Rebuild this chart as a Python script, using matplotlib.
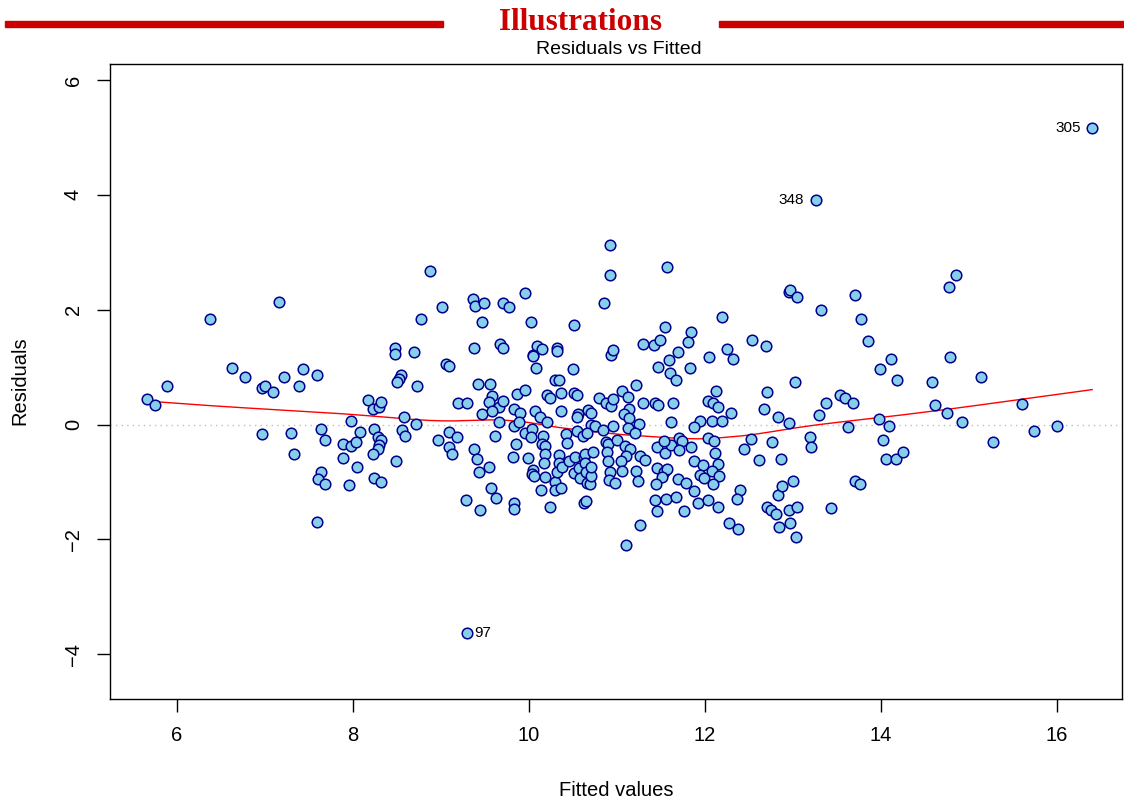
import matplotlib
matplotlib.use('Agg')
import matplotlib.pyplot as plt
import matplotlib.patches as mpatches
import numpy as np

# Valores (ajustados vs resíduos)
fitted = [
    5.66, 5.75, 5.89, 6.38, 6.63, 6.77, 6.97, 7.00, 7.09, 7.16, 7.22, 7.39, 7.43, 7.59,
    7.98, 8.17, 8.23, 8.29, 8.32, 6.97, 7.30, 7.64, 7.68, 7.33, 7.64, 7.60, 7.68, 7.59,
    7.89, 7.98, 8.03, 8.08, 7.89, 8.05, 7.96, 8.24, 8.28, 8.32, 8.30, 8.28, 8.23, 8.24,
    8.32, 8.87, 8.77, 9.01, 8.48, 8.48, 8.69, 9.06, 9.09, 8.55, 8.52, 8.50, 8.73, 9.36,
    9.39, 9.49, 9.70, 9.77, 9.96, 9.47, 10.02, 9.37, 9.67, 9.71, 10.09, 10.15, 10.04, 10.05,
    10.32, 10.32, 10.08, 10.51, 10.50, 10.85, 10.92, 10.92, 10.93, 9.19, 9.29, 9.42, 9.56, 9.58,
    9.55, 9.66, 9.70, 9.47, 9.58, 8.58, 8.72, 9.86, 9.96, 9.83, 9.90, 10.07, 10.13, 10.21,
    10.24, 10.21, 10.36, 10.36, 10.29, 10.34, 10.51, 10.55, 10.56, 10.55, 10.67, 10.71, 10.79, 10.88,
    10.93, 9.66, 9.83, 9.89, 10.71, 8.56, 8.59, 8.49, 8.97, 9.09, 9.18, 9.09, 9.13, 9.38,
    9.41, 9.43, 9.55, 9.57, 9.63, 9.28, 9.44, 9.61, 9.85, 9.82, 9.83, 9.83, 9.95, 10.03,
    10.02, 9.99, 10.05, 10.03, 10.06, 10.16, 10.15, 10.18, 10.18, 10.17, 10.18, 10.14, 10.24, 10.30,
    10.30, 10.36, 10.34, 10.34, 10.32, 10.37, 10.42, 10.43, 10.46, 10.52, 10.51, 10.57, 10.58, 10.62,
    10.64, 10.64, 10.65, 10.66, 10.69, 10.71, 10.71, 10.73, 10.63, 10.65, 10.55, 10.61, 10.66, 10.75,
    10.84, 10.87, 10.90, 10.89, 10.90, 10.92, 10.91, 11.57, 11.55, 11.30, 11.42, 11.49, 11.84, 11.81,
    11.69, 11.59, 11.47, 11.60, 11.67, 11.83, 10.96, 12.19, 12.05, 12.25, 12.32, 12.53, 12.69, 12.95,
    12.97, 13.05, 13.32, 13.02, 12.70, 13.38, 11.22, 11.06, 11.13, 10.96, 11.30, 11.43, 11.47, 11.64,
    11.14, 11.08, 11.14, 11.25, 11.61, 12.13, 12.04, 12.09, 12.15, 12.30, 12.67, 12.83, 12.95, 13.30,
    11.94, 12.08, 12.19, 11.87, 10.96, 11.13, 11.21, 11.00, 11.09, 11.15, 11.10, 11.05, 10.98, 11.06,
    11.22, 11.24, 11.26, 11.32, 11.26, 11.10, 11.46, 11.55, 11.61, 11.54, 11.71, 11.74, 11.71, 11.84,
    11.46, 11.53, 11.57, 11.51, 11.44, 11.69, 11.78, 11.43, 11.56, 11.67, 11.46, 11.76, 11.88, 11.92,
    11.88, 11.98, 11.94, 11.99, 12.04, 12.10, 12.11, 12.15, 12.08, 12.16, 12.09, 12.03, 12.15, 12.44,
    12.52, 12.61, 12.76, 12.86, 12.40, 12.36, 12.27, 12.37, 12.70, 12.75, 12.81, 12.83, 12.88, 13.00,
    12.95, 13.05, 12.84, 12.97, 13.03, 13.19, 13.20, 13.43, 13.71, 13.77, 13.85, 14.11, 13.99, 14.18,
    13.54, 13.59, 13.68, 14.85, 14.77, 14.79, 15.14, 14.58, 14.61, 14.75, 14.92, 15.60, 13.98, 14.09,
    13.63, 16.00, 15.74, 14.02, 14.06, 14.17, 14.25, 13.71, 13.76, 15.27,
    16.40, 13.26, 9.30,
]
residuals = [
    0.44, 0.35, 0.67, 1.83, 0.98, 0.83, 0.64, 0.67, 0.57, 2.14, 0.83, 0.67, 0.97, 0.86,
    0.07, 0.43, 0.28, 0.31, 0.39, -0.16, -0.15, -0.08, -0.27, -0.52, -0.83, -0.94, -1.03, -1.69,
    -0.34, -0.38, -0.31, -0.13, -0.59, -0.74, -1.06, -0.07, -0.22, -0.26, -0.35, -0.42, -0.52, -0.93,
    -1.00, 2.68, 1.84, 2.04, 1.33, 1.23, 1.26, 1.06, 1.02, 0.86, 0.79, 0.75, 0.68, 2.19,
    2.07, 2.12, 2.11, 2.04, 2.30, 1.79, 1.79, 1.34, 1.40, 1.34, 1.37, 1.31, 1.22, 1.20,
    1.34, 1.29, 0.98, 1.74, 0.96, 2.11, 3.13, 2.61, 1.21, 0.37, 0.37, 0.70, 0.70, 0.49,
    0.40, 0.30, 0.41, 0.19, 0.23, 0.13, 0.01, 0.54, 0.60, 0.28, 0.21, 0.23, 0.13, 0.51,
    0.46, 0.05, 0.55, 0.24, 0.77, 0.77, 0.55, 0.51, 0.19, 0.14, 0.25, 0.20, 0.47, 0.38,
    0.32, 0.05, -0.02, 0.05, 0.00, -0.10, -0.19, -0.63, -0.27, -0.13, -0.22, -0.39, -0.52, -0.42,
    -0.60, -0.82, -0.74, -1.11, -1.27, -1.32, -1.48, -0.20, -0.34, -0.56, -1.37, -1.47, -0.14, -0.07,
    -0.21, -0.59, -0.79, -0.86, -0.90, -0.20, -0.34, -0.38, -0.52, -0.67, -0.92, -1.13, -1.43, -1.00,
    -1.14, -1.10, -0.53, -0.67, -0.82, -0.73, -0.16, -0.32, -0.64, -0.56, -0.85, -0.75, -0.93, -0.56,
    -0.52, -0.67, -0.82, -1.01, -1.03, -0.89, -0.74, -0.47, -1.36, -1.33, -0.12, -0.20, -0.14, -0.03,
    -0.09, -0.30, -0.34, -0.47, -0.64, -0.83, -0.96, 2.74, 1.70, 1.41, 1.39, 1.47, 1.62, 1.44,
    1.27, 1.12, 1.00, 0.90, 0.78, 0.98, 1.30, 1.87, 1.17, 1.31, 1.14, 1.48, 1.37, 2.31,
    2.35, 2.23, 2.00, 0.74, 0.57, 0.38, 0.69, 0.59, 0.48, 0.45, 0.37, 0.38, 0.35, 0.37,
    0.27, 0.19, 0.12, 0.01, 0.05, 0.58, 0.41, 0.38, 0.31, 0.21, 0.28, 0.13, 0.02, 0.16,
    0.07, 0.07, 0.07, -0.04, -0.03, -0.06, -0.14, -0.26, -0.38, -0.43, -0.54, -0.64, -1.01, -0.80,
    -0.81, -0.98, -0.55, -0.61, -1.75, -2.10, -0.39, -0.49, -0.35, -0.29, -0.24, -0.29, -0.45, -0.39,
    -0.75, -0.82, -0.77, -0.91, -1.03, -0.94, -1.02, -1.31, -1.30, -1.26, -1.50, -1.50, -1.16, -1.36,
    -0.63, -0.71, -0.88, -0.93, -0.23, -0.29, -0.49, -0.68, -0.81, -0.89, -1.03, -1.32, -1.44, -0.43,
    -0.25, -0.61, -0.31, -0.60, -1.14, -1.30, -1.72, -1.81, -1.44, -1.48, -1.56, -1.22, -1.07, -0.99,
    -1.49, -1.44, -1.78, -1.72, -1.96, -0.21, -0.39, -1.45, 2.25, 1.84, 1.46, 1.15, 0.97, 0.78,
    0.52, 0.47, 0.38, 2.61, 2.39, 1.17, 0.83, 0.74, 0.35, 0.21, 0.05, 0.36, 0.09, -0.02,
    -0.05, -0.03, -0.11, -0.27, -0.60, -0.60, -0.48, -0.99, -1.04, -0.31,
    5.17, 3.91, -3.63,
]
# Observações identificadas (as três últimas)
rotulos = ['305', '348', '97']
lado_rotulo = ['left', 'left', 'right']

x_ticks = [6, 8, 10, 12, 14, 16]
y_ticks = [-4, -2, 0, 2, 4, 6]

COR_PONTO = '#87CEEB'
COR_BORDA = '#00008B'
COR_HEADER = '#CC0000'
FONTE = 'Liberation Sans'


def lowess(x, y, f=2/3, iters=3):
    """Suavização lowess simples (como no R)."""
    x = np.asarray(x, float)
    y = np.asarray(y, float)
    ordem = np.argsort(x)
    x, y = x[ordem], y[ordem]
    n = len(x)
    r = int(np.ceil(f * n))
    h = np.array([np.sort(np.abs(x - x[i]))[r - 1] for i in range(n)])
    w = np.clip(np.abs((x[:, None] - x[None, :]) / h[:, None]), 0, 1)
    w = (1 - w ** 3) ** 3
    delta = np.ones(n)
    yest = np.zeros(n)
    for _ in range(iters + 1):
        for i in range(n):
            pesos = delta * w[i]
            sw = pesos.sum()
            mx = (pesos * x).sum() / sw
            my = (pesos * y).sum() / sw
            sxx = (pesos * (x - mx) ** 2).sum()
            b = (pesos * (x - mx) * (y - my)).sum() / sxx if sxx > 0 else 0
            yest[i] = my + b * (x[i] - mx)
        res = y - yest
        s = np.median(np.abs(res))
        delta = np.clip(res / (6 * s), -1, 1)
        delta = (1 - delta ** 2) ** 2
    return x, yest


plt.rcParams['font.family'] = [FONTE, 'DejaVu Sans']

fig = plt.figure(figsize=(11.24, 8.01), dpi=100)
ax = fig.add_axes([0.0976, 0.1273, 0.9006, 0.7932])

ax.axhline(0, color='#BEBEBE', linestyle=(0, (1, 3)), linewidth=1.0, zorder=1)
ax.scatter(fitted, residuals, s=58, facecolor=COR_PONTO, edgecolor=COR_BORDA,
           linewidth=1.1, zorder=3)

xs, ys = lowess(fitted, residuals)
ax.plot(xs, ys, color='red', linewidth=1.0, zorder=2)

# Rótulos das observações extremas
for k, (rot, lado) in enumerate(zip(rotulos, lado_rotulo)):
    i = len(fitted) - len(rotulos) + k
    dx = -0.13 if lado == 'left' else 0.08
    ax.text(fitted[i] + dx, residuals[i], rot, fontsize=11,
            ha='right' if lado == 'left' else 'left', va='center')

ax.set_xlim(5.235, 16.739)
ax.set_ylim(-4.778, 6.284)
ax.set_xticks(x_ticks)
ax.set_yticks(y_ticks)
ax.set_yticklabels([str(v).replace('-', '\u2212') for v in y_ticks],
                   rotation=90, va='center')
ax.tick_params(axis='both', direction='out', length=9.4, width=1.0,
               labelsize=14.5, pad=10)
for s in ax.spines.values():
    s.set_linewidth(1.0)

fig.text(615.9 / 1124, 1 - 790 / 801, 'Fitted values', ha='center', va='center',
         fontsize=14.5)
fig.text(20 / 1124, 1 - 381 / 801, 'Residuals', ha='center', va='center',
         rotation=90, fontsize=14.5)
fig.text(619 / 1124, 1 - 49 / 801, 'Residuals vs Fitted', ha='center',
         va='center', fontsize=14)

# Cabeçalho
fig.patches.append(mpatches.Rectangle((5 / 1124, 1 - 27 / 801), 438 / 1124, 6 / 801,
                                      transform=fig.transFigure, color=COR_HEADER))
fig.patches.append(mpatches.Rectangle((719 / 1124, 1 - 27 / 801), 405 / 1124, 6 / 801,
                                      transform=fig.transFigure, color=COR_HEADER))
fig.text(581 / 1124, 1 - 30 / 801, 'Illustrations', ha='center', va='baseline',
         fontsize=22.5, fontweight='bold', color=COR_HEADER,
         family=['Liberation Serif', 'DejaVu Serif'])

fig.savefig('out.png', dpi=100, facecolor='white')
